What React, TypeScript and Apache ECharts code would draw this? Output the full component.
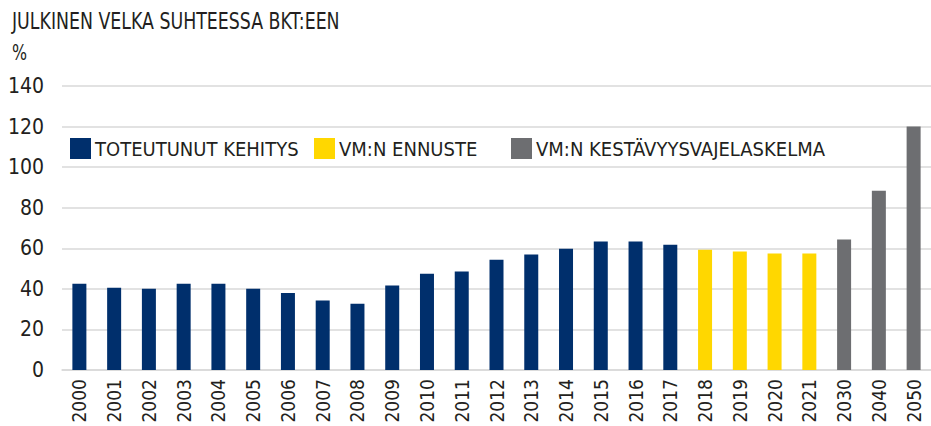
import React, { useEffect, useRef } from "react";
import * as echarts from "echarts";

const years = [
  "2000", "2001", "2002", "2003", "2004", "2005", "2006", "2007", "2008", "2009",
  "2010", "2011", "2012", "2013", "2014", "2015", "2016", "2017",
  "2018", "2019", "2020", "2021",
  "2030", "2040", "2050",
];
const toteutunut = [42.5, 40.5, 40.0, 42.5, 42.5, 40.0, 38.0, 34.2, 32.7, 41.6, 47.5, 48.5, 54.4, 56.9, 59.8, 63.3, 63.3, 61.8];
const ennuste = [59.3, 58.4, 57.4, 57.4];
const kestavyys = [64.3, 88.4, 120];
const yTicks = [0, 20, 40, 60, 80, 100, 120, 140];

const titleText = "JULKINEN VELKA SUHTEESSA BKT:EEN";
const unitText = "%";
const names = ["TOTEUTUNUT KEHITYS", "VM:N ENNUSTE", "VM:N KESTÄVYYSVAJELASKELMA"];
const colors = ["#002f6c", "#ffd700", "#6d6e71"];

const FONT = "'DejaVu Sans Condensed', 'Liberation Sans Narrow', sans-serif";
const TXT = "#231f20";

export default function App() {
  const ref = useRef<HTMLDivElement>(null);
  useEffect(() => {
    if (!ref.current) return;
    const chart = echarts.init(ref.current, undefined, { renderer: "svg" });
    const n1 = toteutunut.length;
    const n2 = ennuste.length;
    const pad = (arr: number[], before: number) => {
      const out: (number | string)[] = [];
      for (let i = 0; i < years.length; i++) {
        const j = i - before;
        out.push(j >= 0 && j < arr.length ? arr[j] : "-");
      }
      return out;
    };
    const seriesData = [pad(toteutunut, 0), pad(ennuste, n1), pad(kestavyys, n1 + n2)];
    const legendLefts = [70, 314, 511];
    chart.setOption({
      animation: false,
      graphic: [
        {
          type: "text",
          x: 12,
          y: 9,
          scaleX: 0.84,
          style: { text: titleText, fontFamily: FONT, fontSize: 23, fill: TXT, textVerticalAlign: "top" },
        },
        {
          type: "text",
          x: 12,
          y: 42,
          scaleX: 0.8,
          style: { text: unitText, fontFamily: FONT, fontSize: 22, fill: TXT, textVerticalAlign: "top" },
        },
      ],
      legend: names.map((nm, i) => ({
        data: [nm],
        left: legendLefts[i],
        top: 138,
        itemWidth: 21,
        itemHeight: 21,
        itemGap: 0,
        padding: 0,
        icon: "rect",
        textStyle: { fontFamily: FONT, fontSize: 20, color: TXT, padding: [0, 0, 0, -1] },
      })),
      grid: { left: 62, right: 0, top: 86, bottom: 56, outerBoundsMode: "none", containLabel: false },
      xAxis: {
        type: "category",
        data: years,
        axisTick: { show: false },
        axisLine: { lineStyle: { color: "#d9d9d9", width: 1.5 } },
        axisLabel: { rotate: 90, interval: 0, margin: 9, fontFamily: FONT, fontSize: 19, color: TXT },
      },
      yAxis: {
        type: "value",
        min: yTicks[0],
        max: yTicks[yTicks.length - 1],
        interval: 20,
        axisLine: { show: false },
        axisTick: { show: false },
        splitLine: { lineStyle: { color: "#d9d9d9", width: 1.5 } },
        axisLabel: { margin: 18, fontFamily: FONT, fontSize: 21, color: TXT },
      },
      series: names.map((nm, i) => ({
        name: nm,
        type: "bar",
        data: seriesData[i],
        barWidth: 14,
        barGap: "-100%",
        itemStyle: { color: colors[i] },
      })),
    });
    return () => chart.dispose();
  }, []);
  return <div ref={ref} style={{ width: 931, height: 426, position: "absolute", left: 0, top: 0 }} />;
}
